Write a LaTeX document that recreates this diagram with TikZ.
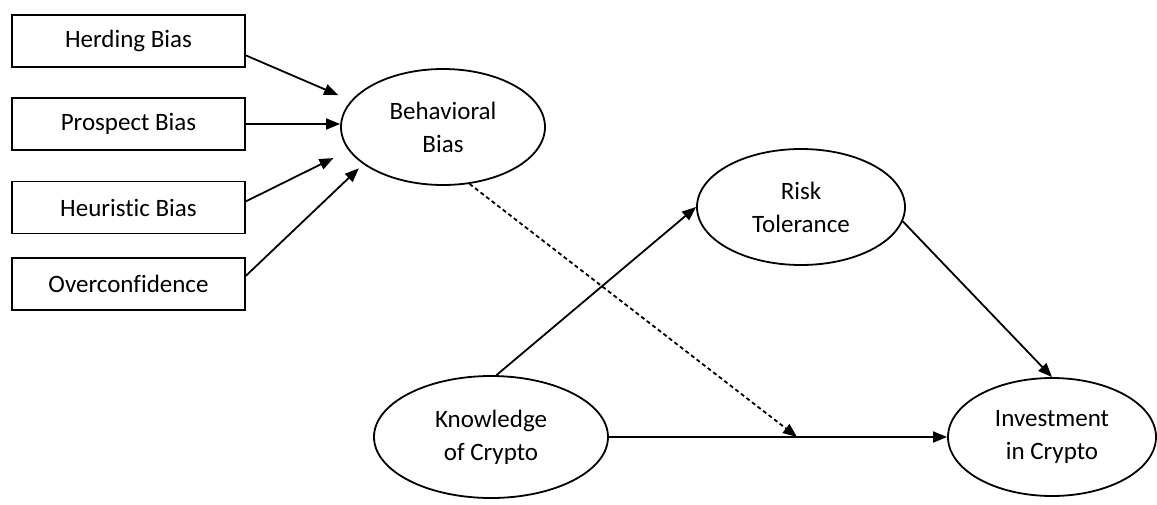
\documentclass[tikz,border=0pt]{standalone}
\usepackage{fontspec}
\setmainfont{Carlito}[Ligatures={NoCommon}]
\usetikzlibrary{arrows.meta,shapes.geometric}
\begin{document}
\begin{tikzpicture}[x=1pt,y=-1pt,
  every node/.style={font=\fontsize{25}{33}\selectfont, align=center, inner sep=0pt},
  biasbox/.style={draw, line width=1.8pt, minimum width=233pt, minimum height=52pt},
  construct/.style={draw, ellipse, line width=1.8pt},
  link/.style={line width=1.8pt, -{Triangle[length=14pt,width=11pt]}},
  modlink/.style={link, dash pattern=on 4pt off 3pt}]
\useasboundingbox (0,0) rectangle (1157,504);
\node[biasbox] (herd) at (128.5,41) {Herding Bias};
\node[biasbox] (prosp) at (128.5,124) {Prospect Bias};
\node[biasbox] (heur) at (128.5,207.5) {Heuristic Bias};
\node[biasbox] (over) at (128.5,284) {Overconfidence};
\node[construct, minimum width=204pt, minimum height=116pt] (bb) at (443,127) {Behavioral\\Bias};
\node[construct, minimum width=208pt, minimum height=116pt] (rt) at (801,207) {Risk\\Tolerance};
\node[construct, minimum width=234pt, minimum height=122pt] (kc) at (491,437) {Knowledge\\of Crypto};
\node[construct, minimum width=208pt, minimum height=118pt] (ic) at (1052,437) {Investment\\in Crypto};
\coordinate (mod) at (797,437);
\draw[link, shorten >=14pt] (herd.-7) -- (bb.164);
\draw[link] (prosp.east) -- (prosp.east -| bb.west);
\draw[link, shorten >=17pt] (heur.3) -- (bb.194.5);
\draw[link, shorten >=6pt] (over.4) -- (bb.205.7);
\draw[link] (kc.85) -- (rt.west);
\draw[link] (rt.-8) -- (ic.north);
\draw[link] (kc.east) -- (ic.west);
\draw[modlink] (bb.-65) -- (mod);
\end{tikzpicture}
\end{document}
